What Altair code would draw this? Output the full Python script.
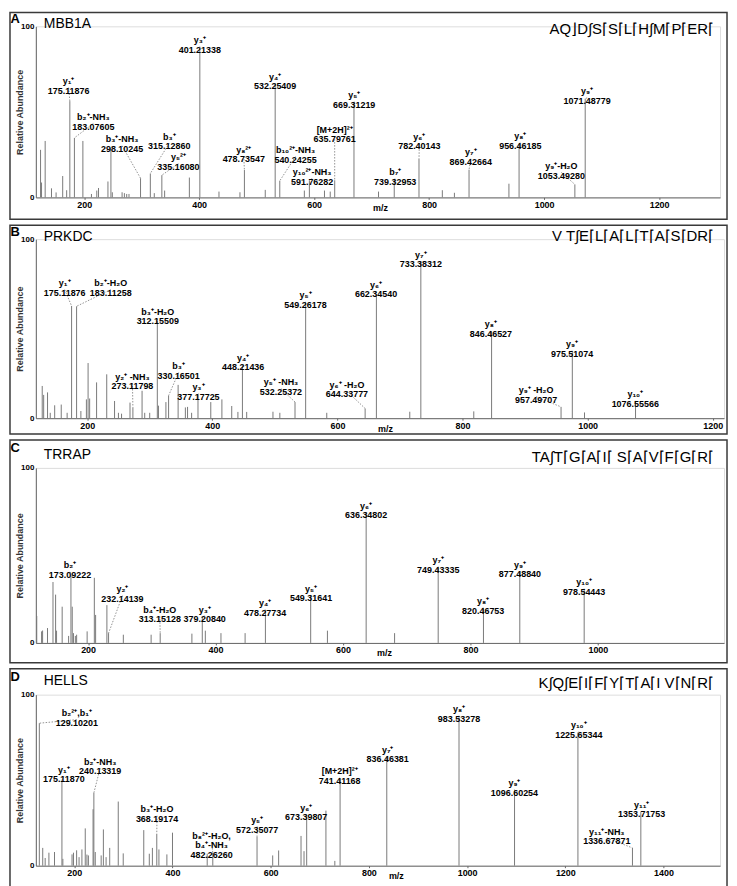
import altair as alt
import pandas as pd

FONT = "Liberation Sans"

# ---------------- Panel A : MBB1A ----------------
A_MZ = [124.2, 125.9, 132.2, 143.2, 151.2, 162.7, 169.6, 175.12, 183.08, 197.8, 212.7, 222.0, 225.0,
        241.4, 246.6, 249.0, 266.0, 270.0, 274.0, 278.0, 298.1, 315.13, 322.0, 335.16, 340.0, 383.0,
        401.21, 434.5, 471.0, 478.74, 515.0, 532.25, 540.24, 583.0, 591.76, 618.0, 628.0, 635.8,
        669.31, 712.0, 739.33, 782.4, 823.0, 844.0, 869.43, 938.8, 956.46, 1053.49, 1071.49]
A_INT = [27.8, 8.7, 33.0, 5.3, 2.9, 12.5, 4.2, 56.3, 34.8, 33.0, 2.0, 4.0, 5.5,
         9.3, 29.0, 3.0, 3.0, 2.5, 2.0, 2.0, 11.2, 14.0, 2.5, 13.0, 4.0, 11.6,
         86.7, 3.4, 3.0, 16.0, 4.4, 65.8, 9.7, 4.0, 10.0, 4.0, 3.4, 10.0,
         55.0, 3.4, 10.5, 22.5, 4.2, 2.7, 16.2, 8.0, 31.4, 7.6, 57.7]
A_LAB_TEXT = ["y₁⁺\n175.11876", "b₂⁺-NH₃\n183.07605", "b₃⁺-NH₃\n298.10245", "b₃⁺\n315.12860",
              "y₅²⁺\n335.16080", "y₃⁺\n401.21338", "y₈²⁺\n478.73547", "y₄⁺\n532.25409",
              "b₁₀²⁺-NH₃\n540.24255", "y₁₀²⁺-NH₃\n591.76282", "[M+2H]²⁺\n635.79761", "y₅⁺\n669.31219",
              "b₇⁺\n739.32953", "y₆⁺\n782.40143", "y₇⁺\n869.42664", "y₈⁺\n956.46185",
              "y₉⁺-H₂O\n1053.49280", "y₉⁺\n1071.48779"]
A_LAB_MZ = [173, 216, 266, 348, 364, 401.2, 477.6, 532.2, 567.7, 596.5, 635.7, 669.7, 741, 783, 872.4, 958.6, 1030, 1074.8]
A_LAB_INT = [65, 44, 31, 32.4, 20.5, 89, 25, 67.6, 24.7, 11.8, 36.6, 56.8, 11.8, 32.4, 23.4, 32.9, 15.4, 59]
A_LAB_PMZ = [175.12, 183.08, 298.1, 315.13, 335.16, 401.21, 478.74, 532.25, 540.24, 591.76, 635.8, 669.31, 739.33, 782.4, 869.43, 956.46, 1053.49, 1071.49]
A_LAB_PINT = [56.3, 34.8, 11.2, 14, 13, 86.7, 16, 65.8, 9.7, 10, 10, 55, 10.5, 22.5, 16.2, 31.4, 7.6, 57.7]

# ---------------- Panel B : PRKDC ----------------
B_MZ = [128.2, 130.5, 136.7, 141.0, 148.1, 158.6, 168.0, 175.12, 183.11, 190.0, 198.8, 201.5, 204.0,
        215.1, 231.3, 243.8, 250.0, 255.0, 268.5, 273.12, 287.8, 292.0, 300.0, 312.16, 314.0, 325.9,
        330.17, 345.4, 357.0, 360.5, 367.0, 377.18, 397.6, 415.4, 431.1, 441.0, 448.21, 455.0, 497.0,
        508.0, 532.25, 549.26, 583.0, 644.34, 662.35, 715.7, 733.38, 818.0, 846.47, 957.5, 975.51,
        995.0, 1076.56]
B_INT = [18.0, 13.0, 14.4, 3.0, 7.2, 7.6, 3.0, 62.7, 62.5, 4.0, 10.5, 30.8, 11.0,
         20.0, 24.5, 9.6, 3.0, 2.5, 8.7, 6.0, 15.3, 3.0, 3.0, 54.5, 7.0, 9.0,
         12.6, 18.6, 6.0, 6.3, 3.0, 13.2, 9.0, 10.5, 6.8, 3.5, 29.0, 3.5, 3.6,
         3.0, 9.0, 64.0, 3.0, 5.4, 69.0, 3.6, 86.7, 3.8, 48.3, 6.3, 37.0,
         3.2, 9.0]
B_LAB_TEXT = ["y₁⁺\n175.11876", "b₂⁺-H₂O\n183.11258", "b₃⁺-H₂O\n312.15509", "y₂⁺ -NH₃\n273.11798",
              "b₃⁺\n330.16501", "y₃⁺\n377.17725", "y₄⁺\n448.21436", "y₅⁺ -NH₃\n532.25372",
              "y₅⁺\n549.26178", "y₆⁺ -H₂O\n644.33777", "y₆⁺\n662.34540", "y₇⁺\n733.38312",
              "y₈⁺\n846.46527", "y₉⁺ -H₂O\n957.49707", "y₉⁺\n975.51074", "y₁₀⁺\n1076.55566"]
B_LAB_MZ = [164.1, 237.7, 312.9, 272.4, 346.2, 377.9, 449.4, 509.8, 549.0, 615.3, 661.8, 733.4, 845.4, 917.6, 975.1, 1076.1]
B_LAB_INT = [72.6, 72.6, 56.5, 20.4, 26.3, 14.5, 30.8, 17.3, 65.8, 15.9, 71.7, 88.5, 49.6, 12.8, 38.5, 10.5]
B_LAB_PMZ = [175.12, 183.11, 312.16, 273.12, 330.17, 377.18, 448.21, 532.25, 549.26, 644.34, 662.35, 733.38, 846.47, 957.5, 975.51, 1076.56]
B_LAB_PINT = [62.7, 62.5, 54.5, 6, 12.6, 13.2, 29, 9, 64, 5.4, 69, 86.7, 48.3, 6.3, 37, 9]

# ---------------- Panel C : TRRAP ----------------
C_MZ = [119.4, 127.0, 128.6, 136.3, 144.9, 149.0, 150.5, 159.3, 169.4, 173.09, 175.12, 177.0, 180.0,
        182.0, 198.5, 209.8, 211.8, 229.5, 232.14, 255.3, 298.9, 313.15, 362.9, 379.21, 384.0, 408.5,
        446.4, 478.28, 549.32, 575.6, 636.35, 681.0, 749.43, 820.47, 877.49, 978.54]
C_INT = [15.4, 6.6, 7.1, 8.5, 34.8, 27.6, 7.0, 20.7, 4.0, 39.0, 20.7, 5.6, 4.0,
         4.7, 6.6, 37.2, 16.0, 21.6, 5.6, 4.7, 4.7, 5.6, 5.3, 15.0, 7.0, 5.6,
         5.6, 18.8, 26.3, 7.0, 74.2, 5.6, 43.2, 19.7, 40.4, 30.5]
C_LAB_TEXT = ["b₂⁺\n173.09222", "y₂⁺\n232.14139", "b₄⁺-H₂O\n313.15128", "y₃⁺\n379.20840",
              "y₄⁺\n478.27734", "y₅⁺\n549.31641", "y₆⁺\n636.34802", "y₇⁺\n749.43335",
              "y₈⁺\n820.46753", "y₉⁺\n877.48840", "y₁₀⁺\n978.54443"]
C_LAB_MZ = [171.6, 253.9, 312.5, 383.0, 477.8, 549.9, 636.3, 749.5, 820, 877.7, 978.5]
C_LAB_INT = [41.4, 27.8, 16, 16.2, 19.9, 28.2, 75.6, 44.4, 21, 41.8, 31.8]
C_LAB_PMZ = [173.09, 232.14, 313.15, 379.21, 478.28, 549.32, 636.35, 749.43, 820.47, 877.49, 978.54]
C_LAB_PINT = [39, 5.6, 5.6, 15, 18.8, 26.3, 74.2, 43.2, 19.7, 40.4, 30.5]

# ---------------- Panel D : HELLS ----------------
D_MZ = [129.1, 136.0, 141.0, 148.6, 160.0, 175.12, 177.0, 195.7, 198.6, 205.0, 210.0, 215.8, 222.6,
        226.0, 229.0, 238.5, 240.13, 243.0, 255.0, 259.5, 265.0, 272.4, 289.8, 299.9, 341.7, 353.0,
        359.3, 368.19, 372.6, 388.8, 400.2, 470.9, 482.26, 572.35, 604.2, 616.3, 661.9, 668.0, 673.4,
        712.6, 730.7, 741.41, 836.46, 983.53, 1096.6, 1225.65, 1336.68, 1353.72]
D_INT = [83.3, 10.4, 4.5, 7.6, 8.0, 50.0, 4.0, 6.6, 7.6, 9.0, 5.0, 9.5, 21.8,
         6.5, 6.0, 33.0, 42.6, 8.0, 6.0, 21.2, 5.0, 10.4, 37.5, 7.2, 20.8, 7.0,
         10.4, 18.6, 9.5, 6.6, 19.3, 7.0, 7.6, 17.0, 6.0, 8.9, 17.4, 8.5, 29.4,
         32.2, 2.8, 50.8, 63.4, 87.1, 43.9, 77.7, 10.4, 31.3]
D_LAB_TEXT = ["b₂²⁺,b₁⁺\n129.10201", "b₂⁺-NH₃\n240.13319", "y₁⁺\n175.11870", "b₃⁺-H₂O\n368.19174",
              "b₈²⁺-H₂O,\nb₄⁺-NH₃\n482.26260", "y₅⁺\n572.35077", "y₆⁺\n673.39807", "[M+2H]²⁺\n741.41168",
              "y₇⁺\n836.46381", "y₈⁺\n983.53278", "y₉⁺\n1096.60254", "y₁₀⁺\n1225.65344",
              "y₁₁⁺\n1353.71753", "y₁₁⁺-NH₃\n1336.67871"]
D_LAB_MZ = [205.4, 252.9, 179, 368.7, 479.8, 572.6, 672.4, 740.6, 838.3, 983.5, 1096.4, 1227.4, 1355.4, 1284.4]
D_LAB_INT = [86.2, 57.8, 53, 30, 14.6, 23.7, 30.8, 52.2, 65, 88.5, 45.3, 79.2, 32.7, 17]
D_LAB_PMZ = [129.1, 240.13, 175.12, 368.19, 482.26, 572.35, 673.4, 741.41, 836.46, 983.53, 1096.6, 1225.65, 1353.72, 1336.68]
D_LAB_PINT = [83.3, 42.6, 50, 18.6, 7.6, 17, 29.4, 50.8, 63.4, 87.1, 43.9, 77.7, 31.3, 10.4]

FRAME_L = -26   # frame left edge relative to plot area
FRAME_R = 695   # frame right edge relative to plot area


def panel(letter, name, seq, mz, inten, lt, lmz, lint, pmz, pint,
          dom, ticks, w, h, top, bottom, mzx, letter_y, name_y, seq_y):
    peaks = pd.DataFrame({"mz": mz, "int": inten})
    labs = pd.DataFrame({"text": lt, "lmz": lmz, "lint": lint, "pmz": pmz, "pint": pint})
    labs["lstart"] = labs["lint"] - 0.8
    one = pd.DataFrame({"k": [0]})

    xsc = alt.Scale(domain=dom, nice=False, zero=False)
    ysc = alt.Scale(domain=[0, 100], nice=False)
    xax = alt.Axis(values=ticks, format="d", title="m/z", titleX=mzx, titleY=13,
                   titleBaseline="alphabetic", titleFontSize=9, titleFontWeight="bold",
                   labelFontSize=9, labelFontWeight="bold", labelColor="black",
                   tickSize=2, tickColor="#666", domainColor="#666", labelPadding=1,
                   grid=False, labelFlush=False)
    yax = alt.Axis(values=[0, 100], title="Relative Abundance", titleX=-16, titleY=h / 2,
                   titleAngle=270, titleAlign="center", titleBaseline="middle",
                   titleFontSize=9, titleFontWeight="bold", titleColor="#333",
                   labelFontSize=8, labelFontWeight="bold", labelColor="black",
                   tickSize=0, labelPadding=2, domainColor="#666", grid=False)

    frame = alt.Chart(one).mark_rect(fillOpacity=0, stroke="#3a3a3a", strokeWidth=1.5).encode(
        x=alt.value(FRAME_L), x2=alt.value(FRAME_R), y=alt.value(-top), y2=alt.value(h + bottom))
    bars = alt.Chart(peaks).mark_rule(color="#7a7a7a", strokeWidth=1).encode(
        x=alt.X("mz:Q", scale=xsc, axis=xax),
        y=alt.Y("int:Q", scale=ysc, axis=yax),
        y2=alt.datum(0))
    leaders = alt.Chart(labs).mark_rule(color="#777", strokeWidth=0.8, strokeDash=[1.5, 1.5]).encode(
        x="lmz:Q", y="lstart:Q", x2="pmz", y2="pint")
    texts = alt.Chart(labs).mark_text(align="center", baseline="bottom", lineBreak="\n",
                                      fontSize=9, fontWeight="bold", lineHeight=9.5,
                                      color="black", font=FONT).encode(
        x="lmz:Q", y="lint:Q", text="text:N")
    let = alt.Chart(one).mark_text(align="left", baseline="top", fontSize=13, fontWeight="bold",
                                   font=FONT, color="black").encode(
        x=alt.value(FRAME_L + 0.5), y=alt.value(letter_y), text=alt.value(letter))
    nm = alt.Chart(one).mark_text(align="left", baseline="middle", fontSize=14,
                                  font=FONT, color="black").encode(
        x=alt.value(8), y=alt.value(name_y), text=alt.value(name))
    sq = alt.Chart(one).mark_text(align="right", baseline="middle", fontSize=15,
                                  font=FONT, color="black").encode(
        x=alt.value(682), y=alt.value(seq_y), text=alt.value(seq))
    return alt.layer(frame, bars, leaders, texts, let, nm, sq).properties(width=w, height=h)


pA = panel("A", "MBB1A", "AQ⌋D∫S⌈S⌈L⌈H∫M⌈P⌈ER⌈", A_MZ, A_INT,
           A_LAB_TEXT, A_LAB_MZ, A_LAB_INT, A_LAB_PMZ, A_LAB_PINT,
           [116, 1306], [200, 400, 600, 800, 1000, 1200], 688, 172, 14, 22, 346, -13.5, -2, 3)
pB = panel("B", "PRKDC", "V T∫E⌈L⌈A⌈L⌈T⌈A⌈S⌈DR⌈", B_MZ, B_INT,
           B_LAB_TEXT, B_LAB_MZ, B_LAB_INT, B_LAB_PMZ, B_LAB_PINT,
           [118, 1218], [200, 400, 600, 800, 1000, 1200], 692, 180, 14, 16, 351, -13.5, -2, -3)
pC = panel("C", "TRRAP", "TA∫T⌈G⌈A⌈I⌈ S⌈A⌈V⌈F⌈G⌈R⌈", C_MZ, C_INT,
           C_LAB_TEXT, C_LAB_MZ, C_LAB_INT, C_LAB_PMZ, C_LAB_PINT,
           [118, 1198], [200, 400, 600, 800, 1000], 692, 176, 28, 20, 350, -26, -13, -11)
pD = panel("D", "HELLS", "K∫Q∫E⌈I⌈F⌈Y⌈T⌈A⌈I V⌈N⌈R⌈", D_MZ, D_INT,
           D_LAB_TEXT, D_LAB_MZ, D_LAB_INT, D_LAB_PMZ, D_LAB_PINT,
           [122, 1515], [200, 400, 600, 800, 1000, 1200, 1400], 688, 172, 26, 22, 362, -24, -14, -12)

chart = alt.vconcat(pA, pB, pC, pD, spacing=2).properties(
    padding={"left": 0, "top": 0, "right": 0, "bottom": 0}
).configure_view(stroke=None).configure(font=FONT)

chart.save("out.html", embed_options={"renderer": "svg", "actions": False})
